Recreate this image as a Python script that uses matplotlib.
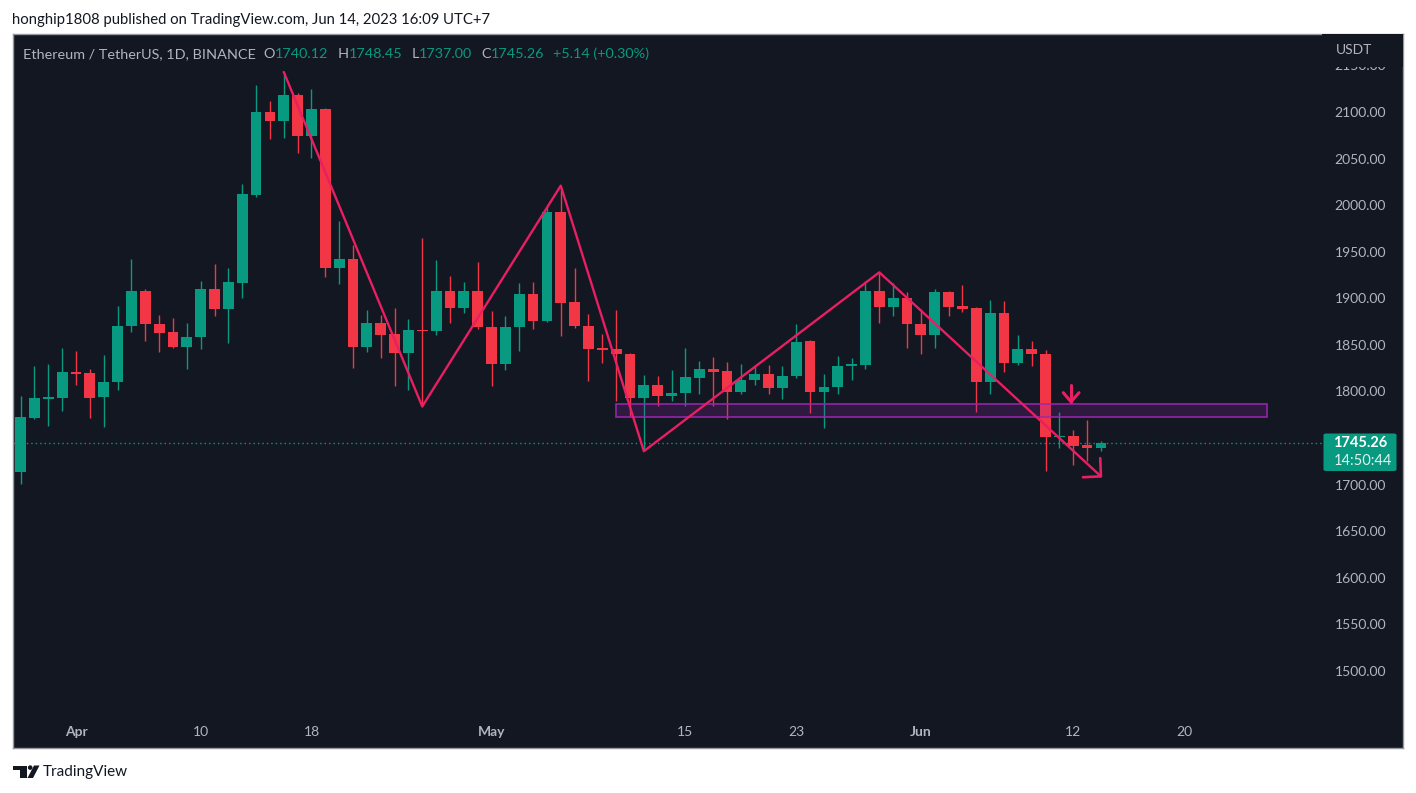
import matplotlib
matplotlib.use('Agg')
import matplotlib.pyplot as plt
import matplotlib.dates as mdates
import matplotlib.patches as mpatches
import matplotlib.transforms as mtransforms
import numpy as np
import pandas as pd

# ---------------- data ----------------
dates = pd.date_range('2023-03-28', '2023-06-14', freq='D')
opens = [1715, 1773, 1793, 1794, 1822, 1821, 1795, 1811, 1871, 1909,
         1873, 1865, 1849, 1860, 1911, 1890, 1918, 2012, 2101, 2091,
         2119, 2075, 2104, 1934, 1943, 1849, 1875, 1863, 1842, 1867,
         1866, 1909, 1891, 1909, 1870, 1831, 1870, 1906, 1877, 1994,
         1897, 1871, 1847, 1847, 1841, 1794, 1808, 1796, 1799, 1816,
         1825, 1823, 1801, 1813, 1820, 1805, 1818, 1855, 1800, 1806,
         1828, 1830, 1909, 1892, 1901, 1874, 1862, 1908, 1893, 1891,
         1811, 1885, 1832, 1847, 1841, 1752, 1753, 1744, 1740.12]
highs = [1796, 1828, 1831, 1848, 1844, 1825, 1840, 1893, 1943, 1911,
         1883, 1880, 1875, 1920, 1938, 1934, 2024, 2130, 2113, 2141,
         2121, 2126, 2105, 1984, 1958, 1889, 1883, 1891, 1879, 1966,
         1942, 1925, 1919, 1940, 1888, 1882, 1918, 1919, 1999, 2018,
         1934, 1884, 1863, 1889, 1842, 1819, 1818, 1824, 1848, 1834,
         1838, 1833, 1831, 1830, 1830, 1828, 1874, 1856, 1820, 1839,
         1837, 1920, 1928, 1918, 1908, 1890, 1911, 1909, 1915, 1892,
         1899, 1898, 1862, 1855, 1846, 1779, 1760, 1771, 1748.45]
lows = [1702, 1772, 1764, 1780, 1808, 1773, 1763, 1803, 1865, 1855,
        1843, 1848, 1825, 1847, 1882, 1853, 1901, 2010, 2072, 2073,
        2057, 2052, 1924, 1916, 1826, 1843, 1837, 1807, 1803, 1785,
        1862, 1875, 1885, 1868, 1807, 1824, 1844, 1868, 1876, 1861,
        1869, 1812, 1832, 1791, 1774, 1738, 1786, 1791, 1786, 1798,
        1785, 1772, 1798, 1808, 1798, 1793, 1816, 1778, 1762, 1798,
        1813, 1825, 1875, 1882, 1848, 1841, 1848, 1882, 1886, 1779,
        1798, 1822, 1829, 1828, 1716, 1740, 1722, 1726, 1737.00]
closes = [1774, 1794, 1795, 1822, 1820, 1794, 1811, 1871, 1909, 1873,
          1864, 1849, 1860, 1911, 1890, 1919, 2013, 2101, 2091, 2119,
          2075, 2104, 1934, 1943, 1849, 1875, 1862, 1842, 1867, 1866,
          1909, 1891, 1909, 1870, 1831, 1870, 1906, 1877, 1994, 1896,
          1871, 1847, 1846, 1841, 1794, 1808, 1796, 1799, 1817, 1825,
          1822, 1801, 1813, 1820, 1805, 1818, 1854, 1800, 1806, 1828,
          1831, 1909, 1892, 1901, 1874, 1862, 1908, 1892, 1890, 1811,
          1885, 1832, 1847, 1841, 1752, 1753, 1743, 1740.12, 1745.26]

last_price = 1745.26
countdown = '14:50:44'

price_ticks = [1500, 1550, 1600, 1650, 1700, 1800, 1850, 1900,
               1950, 2000, 2050, 2100, 2150]
tick_dates = ['2023-04-01', '2023-04-10', '2023-04-18', '2023-05-01',
              '2023-05-15', '2023-05-23', '2023-06-01', '2023-06-12',
              '2023-06-20']
tick_labels = ['Apr', '10', '18', 'May', '15', '23', 'Jun', '12', '20']
month_labels = ['Apr', 'May', 'Jun']

# drawings
zig_dates = ['2023-04-16', '2023-04-26', '2023-05-06', '2023-05-12',
             '2023-05-29', '2023-06-14']
zig_prices = [2144, 1785, 2022, 1737, 1929, 1710]
end_head_days = [73.95, 74.0, 72.7]          # days after Apr 1
end_head_prices = [1729.5, 1710, 1709]
down_shaft_days = [71.84, 71.84]
down_shaft_prices = [1808, 1790]
down_head_days = [71.28, 71.84, 72.42]
down_head_prices = [1799.8, 1790, 1799.8]
zone_start, zone_end = '2023-05-10', '2023-06-26'
zone_low, zone_high = 1773.4, 1787.3

header = 'honghip1808 published on TradingView.com, Jun 14, 2023 16:09 UTC+7'
title_parts = [('Ethereum / TetherUS, 1D, BINANCE', 'g', 0),
               ('O', 'g', 8), ('1740.12', 't', 0),
               ('H', 'g', 9), ('1748.45', 't', 0),
               ('L', 'g', 9), ('1737.00', 't', 0),
               ('C', 'g', 9), ('1745.26', 't', 0),
               ('+5.14 (+0.30%)', 't', 9)]

# ---------------- style ----------------
BG = '#131722'
UP = '#089981'
DN = '#f23645'
TXT = '#b2b5be'
PINK = '#e91e63'
FONT = 'Lato'

W, H = 1416, 793
L, R, T, B = 13, 1403, 34, 748

def fx(px):
    return px / W

def fy(py):
    return 1 - py / H

def axx(px):
    return (px - L) / (R - L)

def axy(py):
    return (B - py) / (B - T)

fig = plt.figure(figsize=(W / 100, H / 100), dpi=100, facecolor='white')
ax = fig.add_axes([fx(L), fy(B), (R - L) / W, (B - T) / H])
ax.set_facecolor(BG)

x0 = mdates.date2num(pd.Timestamp('2023-04-01'))
ax.set_xlim(x0 - 4.549, x0 + 95.81)
ax.set_ylim(1418.4, 2184.8)
ax.set_xticks([])
ax.set_yticks([])
for s in ax.spines.values():
    s.set_color('#9598a1')
    s.set_linewidth(1)

# candles
xs = mdates.date2num(dates)
o = np.array(opens, float)
c = np.array(closes, float)
hi = np.array(highs, float)
lo = np.array(lows, float)
cols = np.where(c >= o, UP, DN)
ax.vlines(xs, lo, hi, colors=cols, lw=1.0, zorder=3)
body_bottom = np.minimum(o, c)
body_h = np.maximum(np.abs(c - o), 1.3)
ax.bar(xs, body_h, bottom=body_bottom, width=0.78, color=cols,
       linewidth=0, zorder=4)

# last price dotted line
ax.axhline(last_price, xmin=0, xmax=axx(1322), color=UP, lw=1,
           ls=(0, (1, 2.2)), zorder=2)

# zone rectangle
zs = mdates.date2num(pd.Timestamp(zone_start))
ze = mdates.date2num(pd.Timestamp(zone_end))
ax.add_patch(mpatches.Rectangle((zs, zone_low), ze - zs, zone_high - zone_low,
                                facecolor=(0.612, 0.153, 0.690, 0.2),
                                edgecolor='#9c27b0', lw=1.1, zorder=5))

# zigzag
zx = mdates.date2num(pd.to_datetime(zig_dates))
ax.plot(zx, zig_prices, color=PINK, lw=1.7, zorder=6,
        solid_joinstyle='round', solid_capstyle='round')
ax.plot(x0 + np.array(end_head_days), end_head_prices, color=PINK, lw=1.9,
        zorder=6, solid_joinstyle='round', solid_capstyle='round')
ax.plot(x0 + np.array(down_shaft_days), down_shaft_prices, color=PINK, lw=2.2,
        zorder=6, solid_capstyle='round')
ax.plot(x0 + np.array(down_head_days), down_head_prices, color=PINK, lw=2.2,
        zorder=6, solid_joinstyle='round', solid_capstyle='round')

# price axis labels
blend = mtransforms.blended_transform_factory(ax.transAxes, ax.transData)
for p in price_ticks:
    ax.text(axx(1386), p, f'{p:.2f}', transform=blend, ha='right',
            va='center', color=TXT, fontsize=10, family=FONT, zorder=10)
# cover clipped top of scale
ax.add_patch(mpatches.Rectangle((axx(1322), axy(66.7)), 1 - axx(1322),
                                1 - axy(66.7), transform=ax.transAxes,
                                facecolor=BG, edgecolor='none', zorder=20))
ax.text(axx(1336), axy(50.5), 'USDT', transform=ax.transAxes, ha='left',
        va='center', color=TXT, fontsize=10, family=FONT, zorder=21)

# last price box
ax.add_patch(mpatches.FancyBboxPatch((axx(1323.5), axy(471)),
                                     axx(1396.5) - axx(1323.5),
                                     axy(433.5) - axy(471),
                                     boxstyle='round,pad=0,rounding_size=0.002',
                                     transform=ax.transAxes, facecolor=UP,
                                     edgecolor='none', zorder=22))
ax.text(axx(1333.5), axy(443.5), f'{last_price:.2f}', transform=ax.transAxes,
        ha='left', va='center', color='white', fontsize=10.5,
        fontweight='bold', family=FONT, zorder=23)
ax.text(axx(1333.5), axy(461.5), countdown, transform=ax.transAxes,
        ha='left', va='center', color='#dff3ef', fontsize=10.5,
        family=FONT, zorder=23)

# time axis labels
xt = ax.get_xaxis_transform()
for d, lab in zip(tick_dates, tick_labels):
    ax.text(mdates.date2num(pd.Timestamp(d)), axy(732.5), lab, transform=xt,
            ha='center', va='center', color=TXT, fontsize=10, family=FONT,
            fontweight='bold' if lab in month_labels else 'normal', zorder=10)

# header
fig.text(fx(12), fy(20), header, ha='left', va='center', color=BG,
         fontsize=10.7, family=FONT)

# title (legend line)
prev = fig.text(fx(23), fy(54), title_parts[0][0], ha='left', va='center',
                color=TXT, fontsize=10.4, family=FONT)
for text, col, gap in title_parts[1:]:
    prev = ax.annotate(text, xy=(1, 0), xycoords=prev, xytext=(gap, 0),
                       textcoords='offset pixels', ha='left', va='bottom',
                       color=TXT if col == 'g' else UP, fontsize=10.4,
                       family=FONT, annotation_clip=False)

# footer logo + text
def fpoly(pts, **kw):
    return mpatches.Polygon([(fx(a), fy(b)) for a, b in pts], closed=True,
                            transform=fig.transFigure, **kw)

logo_col = BG
fig.add_artist(fpoly([(13, 765.5), (26.5, 765.5), (26.5, 770), (13, 770)],
                     facecolor=logo_col, edgecolor='none'))
fig.add_artist(fpoly([(19.5, 765.5), (26.5, 765.5), (26.5, 778), (19.5, 778)],
                     facecolor=logo_col, edgecolor='none'))
fig.add_artist(mpatches.Ellipse((fx(30.2), fy(767.6)), 4.6 / W, 4.6 / H,
                                transform=fig.transFigure,
                                facecolor=logo_col, edgecolor='none'))
fig.add_artist(fpoly([(34, 765.5), (39.5, 765.5), (33, 778), (27.5, 778)],
                     facecolor=logo_col, edgecolor='none'))
fig.text(fx(43), fy(772), 'TradingView', ha='left', va='center', color=BG,
         fontsize=11, family=FONT)

fig.savefig('out.png', dpi=100, facecolor='white')
